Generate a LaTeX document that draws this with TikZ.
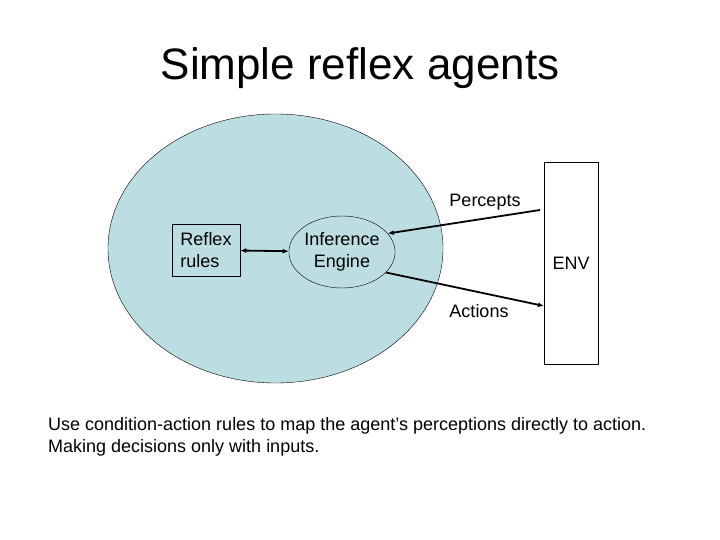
\documentclass[tikz,border=0pt]{standalone}
\usepackage{fontspec}
\setmainfont{Liberation Sans}
\usetikzlibrary{arrows.meta,positioning,shapes.geometric}
\definecolor{agentblue}{RGB}{188,222,226}
\definecolor{lineblk}{RGB}{0,0,0}
\tikzset{
  agent/.style={ellipse,fill=agentblue,draw=lineblk,line width=0.4pt,inner sep=0pt},
  rulebox/.style={draw=lineblk,line width=0.6pt,align=left,font=\fontsize{18}{22}\selectfont,inner sep=0pt},
  engine/.style={ellipse,fill=agentblue,draw=lineblk,line width=0.4pt,align=center,font=\fontsize{18}{22}\selectfont,inner sep=0pt},
  envbox/.style={draw=lineblk,line width=0.6pt,fill=white,font=\fontsize{18}{22}\selectfont,inner sep=0pt},
  lbl/.style={font=\fontsize{18}{22}\selectfont,inner sep=0pt},
  arr/.style={-{Latex[length=6pt,width=5pt]},line width=1.8pt,draw=lineblk},
  darr/.style={{Latex[length=6pt,width=5pt]}-{Latex[length=6pt,width=5pt]},line width=1.8pt,draw=lineblk},
}
\begin{document}
\begin{tikzpicture}[x=1pt,y=-1pt]
  \useasboundingbox[fill=white] (0,0) rectangle (720,540);
  \node[font=\fontsize{44}{48}\selectfont] (title) at (360,68) {Simple reflex agents};
  \node[agent,minimum width=335pt,minimum height=269pt] (agt) at (275.5,248.5) {};
  \node[rulebox,minimum width=68pt,minimum height=52pt] (rules) at (206,250) {Reflex\\rules};
  \node[engine,minimum width=84pt,minimum height=72pt] (eng) at (342,252) {Inference\\Engine};
  \node[envbox,minimum width=54pt,minimum height=202pt] (env) at (571,263) {ENV};
  \coordinate (pin) at (540,210);
  \coordinate (pout) at (544,306);
  \node[lbl] (perc) at (485,202) {Percepts};
  \node[lbl] (act) at (479,311) {Actions};
  \draw[darr] (rules) -- (eng);
  \draw[arr] (pin) -- (eng.22);
  \draw[arr] (eng.-25) -- (pout);
  \node[lbl,anchor=north west,align=left] (note) at (48,417) {Use condition-action rules to map the agent’s perceptions directly to action.\\Making decisions only with inputs.};
\end{tikzpicture}
\end{document}
